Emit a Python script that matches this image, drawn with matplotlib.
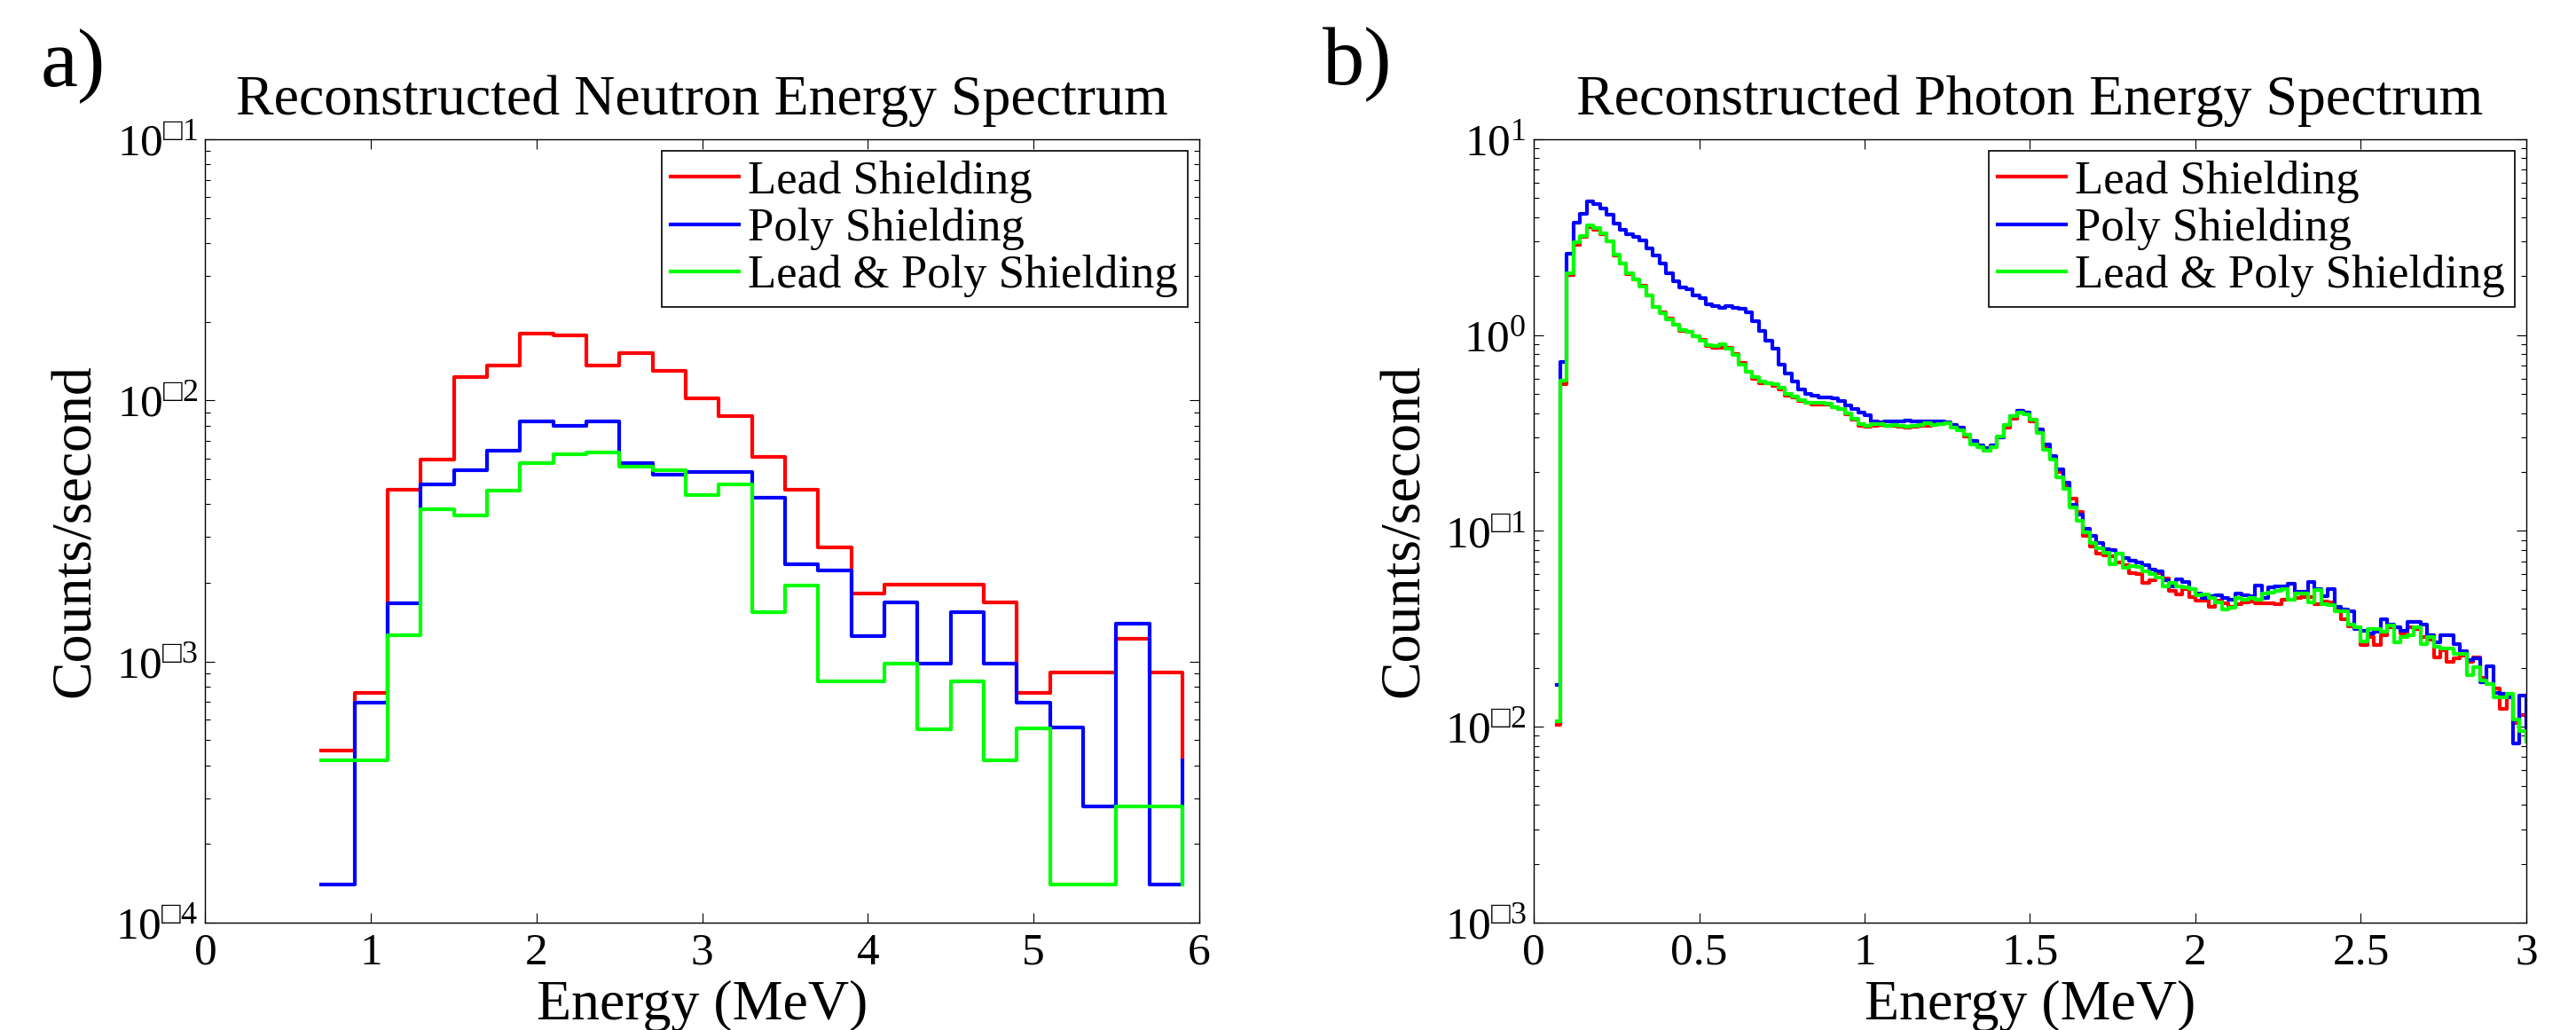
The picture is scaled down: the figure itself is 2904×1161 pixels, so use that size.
import numpy as np
import matplotlib
matplotlib.use('Agg')
import matplotlib.pyplot as plt
from matplotlib.ticker import LogLocator, FuncFormatter, NullFormatter, MultipleLocator

plt.rcParams['font.family'] = ['Liberation Serif', 'DejaVu Serif']
plt.rcParams['mathtext.fontset'] = 'custom'
plt.rcParams['mathtext.rm'] = 'Liberation Serif'
plt.rcParams['mathtext.it'] = 'Liberation Serif:italic'
plt.rcParams['mathtext.fallback'] = 'stix'

# neutron spectrum: 0.2 MeV bins, last value only closes the final step
neutron_edges = [0.7, 0.9, 1.1, 1.3, 1.5, 1.7, 1.9, 2.1, 2.3, 2.5, 2.7, 2.9, 3.1, 3.3,
                 3.5, 3.7, 3.9, 4.1, 4.3, 4.5, 4.7, 4.9, 5.1, 5.3, 5.5, 5.7, 5.9]
neutron_lead = [4.57e-4, 7.6e-4, 4.55e-3, 5.93e-3, 1.23e-2, 1.355e-2, 1.80e-2, 1.77e-2, 1.355e-2,
                1.52e-2, 1.30e-2, 1.02e-2, 8.74e-3, 6.1e-3, 4.55e-3, 2.74e-3, 1.82e-3, 1.97e-3,
                1.97e-3, 1.97e-3, 1.68e-3, 7.6e-4, 9.1e-4, 9.1e-4, 1.22e-3, 9.1e-4, 4.19e-4]
neutron_poly = [1.40e-4, 6.95e-4, 1.67e-3, 4.77e-3, 5.42e-3, 6.44e-3, 8.3e-3, 8.0e-3, 8.3e-3,
                5.75e-3, 5.18e-3, 5.3e-3, 5.3e-3, 4.23e-3, 2.36e-3, 2.23e-3, 1.25e-3, 1.68e-3,
                9.8e-4, 1.54e-3, 9.8e-4, 6.95e-4, 5.59e-4, 2.79e-4, 1.40e-3, 1.40e-4, 4.19e-4]
neutron_both = [4.19e-4, 4.19e-4, 1.26e-3, 3.84e-3, 3.64e-3, 4.5e-3, 5.75e-3, 6.2e-3, 6.33e-3,
                5.58e-3, 5.42e-3, 4.33e-3, 4.78e-3, 1.54e-3, 1.95e-3, 8.4e-4, 8.4e-4, 9.8e-4,
                5.52e-4, 8.4e-4, 4.19e-4, 5.55e-4, 1.40e-4, 1.40e-4, 2.79e-4, 2.79e-4, 1.40e-4]

# photon spectrum: first short bin at 0.07, then 0.02 MeV bins up to 3.0
photon_edges = np.concatenate(([0.07], np.round(np.arange(0.08, 3.001, 0.02), 2)))
photon_lead = [
    0.0102,
    0.56, 2.02, 2.90, 3.18, 3.55, 3.45, 3.28, 3.0, 2.55, 2.33,
    2.05, 1.92, 1.78, 1.60, 1.39, 1.31, 1.21, 1.13, 1.05, 1.04,
    0.99, 0.95, 0.88, 0.86, 0.86, 0.86, 0.80, 0.72, 0.65, 0.60,
    0.57, 0.57, 0.55, 0.53, 0.49, 0.48, 0.46, 0.45, 0.44, 0.44,
    0.44, 0.43, 0.42, 0.395, 0.37, 0.345, 0.34, 0.345, 0.348, 0.343,
    0.343, 0.341, 0.337, 0.341, 0.343, 0.343, 0.349, 0.355, 0.355, 0.349,
    0.331, 0.304, 0.288, 0.269, 0.258, 0.269, 0.299, 0.337, 0.374, 0.411,
    0.401, 0.362, 0.326, 0.269, 0.235, 0.200, 0.171, 0.146, 0.125, 0.0946,
    0.0837, 0.0767, 0.0754, 0.0741, 0.0691, 0.0668, 0.0612, 0.0601, 0.0546, 0.0561,
    0.0612, 0.0570, 0.0496, 0.0475, 0.0505, 0.0458, 0.0442, 0.0440,
    0.0410, 0.0440, 0.0428, 0.0410, 0.0421, 0.0432, 0.0437, 0.0428, 0.0428, 0.0428,
    0.0424, 0.0447, 0.0447, 0.0455, 0.0460, 0.0460, 0.0424, 0.0437, 0.0432, 0.0407,
    0.0354, 0.0327, 0.0321, 0.0261, 0.0289, 0.0261, 0.0294, 0.0321, 0.0321, 0.0299,
    0.0321, 0.0316, 0.0289, 0.0279, 0.0227, 0.0247, 0.0215, 0.0223, 0.0231, 0.0215,
    0.0227, 0.0178, 0.0166, 0.0157, 0.0123, 0.0144, 0.0105, 0.0115,
    0.0092]
photon_poly = [
    0.0164,
    0.726, 2.61, 3.74, 4.15, 4.81, 4.69, 4.45, 4.11, 3.70, 3.45,
    3.29, 3.17, 3.03, 2.78, 2.55, 2.32, 2.07, 1.89, 1.75, 1.71,
    1.59, 1.54, 1.44, 1.41, 1.38, 1.40, 1.38, 1.36, 1.31, 1.18,
    1.05, 0.94, 0.85, 0.71, 0.64, 0.58, 0.53, 0.503, 0.491, 0.481,
    0.481, 0.477, 0.461, 0.438, 0.42, 0.401, 0.391, 0.361, 0.357, 0.361,
    0.362, 0.364, 0.365, 0.364, 0.362, 0.364, 0.364, 0.362, 0.358, 0.349,
    0.337, 0.309, 0.288, 0.274, 0.264, 0.274, 0.299, 0.346, 0.388, 0.409,
    0.404, 0.370, 0.331, 0.276, 0.242, 0.207, 0.177, 0.136, 0.121, 0.103,
    0.0946, 0.0867, 0.0809, 0.0800, 0.0767, 0.0728, 0.0703, 0.0691, 0.0668, 0.0633,
    0.0623, 0.0561, 0.0523, 0.0565, 0.0551, 0.0505, 0.0480, 0.0455,
    0.0463, 0.0468, 0.0455, 0.0447, 0.0480, 0.0471, 0.0463, 0.0527, 0.0455, 0.0514,
    0.0519, 0.0519, 0.0538, 0.0488, 0.0491, 0.0551, 0.0505, 0.0463, 0.0505, 0.0410,
    0.0396, 0.0389, 0.0316, 0.0310, 0.0299, 0.0305, 0.0356, 0.0333, 0.0321, 0.0310,
    0.0344, 0.0344, 0.0333, 0.0294, 0.0270, 0.0294, 0.0294, 0.0265, 0.0243, 0.0219,
    0.0223, 0.0169, 0.0204, 0.0149, 0.0147, 0.0142, 0.0082, 0.0144,
    0.0098]
photon_both = [
    0.0107,
    0.588, 2.07, 2.98, 3.22, 3.65, 3.52, 3.31, 3.0, 2.57, 2.32,
    2.07, 1.93, 1.77, 1.59, 1.39, 1.30, 1.20, 1.13, 1.06, 1.04,
    0.99, 0.94, 0.89, 0.88, 0.90, 0.85, 0.79, 0.71, 0.65, 0.61,
    0.58, 0.57, 0.56, 0.54, 0.50, 0.486, 0.466, 0.45, 0.45, 0.452,
    0.445, 0.43, 0.42, 0.40, 0.374, 0.35, 0.343, 0.35, 0.352, 0.345,
    0.346, 0.343, 0.341, 0.343, 0.349, 0.355, 0.349, 0.352, 0.355, 0.337,
    0.326, 0.309, 0.276, 0.269, 0.258, 0.267, 0.304, 0.346, 0.384, 0.401,
    0.394, 0.370, 0.318, 0.260, 0.232, 0.187, 0.164, 0.132, 0.113, 0.098,
    0.0867, 0.0817, 0.0773, 0.0679, 0.0767, 0.0649, 0.0663, 0.0656, 0.0623, 0.0601,
    0.0581, 0.0523, 0.0542, 0.0523, 0.0514, 0.0505, 0.0471, 0.0475,
    0.0455, 0.0432, 0.0396, 0.0407, 0.0455, 0.0447, 0.0455, 0.0447, 0.0480, 0.0484,
    0.0496, 0.0505, 0.0447, 0.0480, 0.0480, 0.0432, 0.0501, 0.0421, 0.0417, 0.0389,
    0.0389, 0.0333, 0.0321, 0.0274, 0.0316, 0.0316, 0.0305, 0.0330, 0.0270, 0.0289,
    0.0294, 0.0321, 0.0265, 0.0289, 0.0256, 0.0252, 0.0252, 0.0235, 0.0235, 0.0184,
    0.0201, 0.0172, 0.0166, 0.0142, 0.0142, 0.0147, 0.0109, 0.0095,
    0.0084]

labels = ['Lead Shielding', 'Poly Shielding', 'Lead & Poly Shielding']
colors = ['#ff0000', '#0000ff', '#00ff00']
BOX = '\u25a1'   # the minus sign shows up as an empty box in the original


def log_label(v, pos):
    p = int(round(np.log10(v)))
    if p < 0:
        return '$10^{' + BOX + str(-p) + '}$'
    return '$10^{' + str(p) + '}$'


def style_axes(ax):
    ax.set_yscale('log')
    ax.yaxis.set_major_locator(LogLocator(base=10))
    ax.yaxis.set_minor_locator(LogLocator(base=10, subs=np.arange(2, 10)))
    ax.yaxis.set_major_formatter(FuncFormatter(log_label))
    ax.yaxis.set_minor_formatter(NullFormatter())
    ax.tick_params(which='both', direction='in', top=True, right=True, width=0.8)
    ax.tick_params(which='major', length=8)
    ax.tick_params(which='minor', length=4)
    ax.tick_params(axis='x', labelsize=37, pad=8)
    ax.tick_params(axis='y', labelsize=37, pad=6)
    for s in ax.spines.values():
        s.set_linewidth(1.0)
    ax.set_xlabel('Energy (MeV)', fontsize=46, labelpad=5)
    ax.set_ylabel('Counts/second', fontsize=46)
    ax.yaxis.set_label_coords(-0.104, 0.5)
    leg = ax.legend(loc='upper right', fontsize=38, fancybox=False, framealpha=1,
                    edgecolor='black', borderaxespad=0.25, handlelength=1.45,
                    handletextpad=0.2, labelspacing=0.1, borderpad=0.2)
    leg.get_frame().set_linewidth(1.2)


fig = plt.figure(figsize=(29.04, 11.61), dpi=100)
ax1 = fig.add_axes([0.0797, 0.1042, 0.3858, 0.7606])
ax2 = fig.add_axes([0.5954, 0.1042, 0.3853, 0.7606])

for vals, lab, c in zip([neutron_lead, neutron_poly, neutron_both], labels, colors):
    ax1.step(neutron_edges, vals, where='post', color=c, lw=3, label=lab)
ax1.set_xlim(0, 6)
ax1.set_ylim(1e-4, 1e-1)
ax1.xaxis.set_major_locator(MultipleLocator(1))
ax1.set_title('Reconstructed Neutron Energy Spectrum', fontsize=46, pad=20)
style_axes(ax1)

for vals, lab, c in zip([photon_lead, photon_poly, photon_both], labels, colors):
    ax2.step(photon_edges, vals, where='post', color=c, lw=3, label=lab)
ax2.set_xlim(0, 3)
ax2.set_ylim(1e-3, 1e1)
ax2.set_xticks([0, 0.5, 1, 1.5, 2, 2.5, 3])
ax2.set_xticklabels(['0', '0.5', '1', '1.5', '2', '2.5', '3'])
ax2.set_title('Reconstructed Photon Energy Spectrum', fontsize=46, pad=20)
style_axes(ax2)

fig.text(46 / 2904, 1 - 97 / 1161, 'a)', fontsize=68, va='baseline', ha='left')
fig.text(1491 / 2904, 1 - 95 / 1161, 'b)', fontsize=68, va='baseline', ha='left')

fig.savefig('out.png', dpi=100)
